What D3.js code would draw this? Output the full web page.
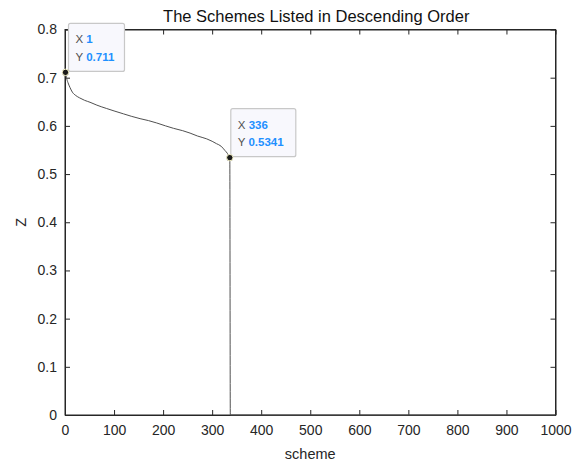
<!DOCTYPE html>
<html><head><meta charset="utf-8">
<script src="https://cdn.jsdelivr.net/npm/d3@7"></script>
<style>
body{margin:0;background:#fff;}
text{font-family:"Liberation Sans",Arial,Helvetica,sans-serif;}
</style></head>
<body><svg id="c" width="583" height="462"></svg>
<script>
const title = "The Schemes Listed in Descending Order";
const xLabel = "scheme";
const yLabel = "Z";
const xTicks = [0,100,200,300,400,500,600,700,800,900,1000];
const yTicks = [0,0.1,0.2,0.3,0.4,0.5,0.6,0.7,0.8];
const schemeX = [1,3,6,10,15,22,30,40,51,65,85,100,119,135,153,170,187,205,221,240,255,270,289,300,309,318,326,331,334,336,337,1000];
const zValues = [0.711,0.700,0.690,0.680,0.670,0.663,0.658,0.653,0.649,0.643,0.636,0.631,0.625,0.620,0.615,0.611,0.606,0.600,0.595,0.590,0.585,0.579,0.573,0.568,0.563,0.558,0.549,0.543,0.538,0.5341,0,0];
const tipX = [1,336];
const tipY = [0.711,0.5341];

const svg = d3.select("#c");
const L=65, R=555.5, T=29.5, B=415;
const x = d3.scaleLinear().domain([0,1000]).range([L,R]);
const y = d3.scaleLinear().domain([0,0.8]).range([B,T]);
const axisColor="#262626";

svg.append("rect").attr("x",L).attr("y",T).attr("width",R-L).attr("height",B-T)
  .attr("fill","#fff").attr("stroke",axisColor).attr("stroke-width",1);

const gx = svg.append("g").attr("transform",`translate(0,${B})`)
  .call(d3.axisBottom(x).tickValues(xTicks).tickSizeInner(-5).tickSizeOuter(0).tickPadding(10).tickFormat(d3.format("d")));
const gxt = svg.append("g").attr("transform",`translate(0,${T})`)
  .call(d3.axisTop(x).tickValues(xTicks).tickSizeInner(-5).tickSizeOuter(0).tickFormat(""));
const gy = svg.append("g").attr("transform",`translate(${L},0)`)
  .call(d3.axisLeft(y).tickValues(yTicks).tickSizeInner(-5).tickSizeOuter(0).tickPadding(8).tickFormat(d=>d===0?"0":d3.format(".1f")(d)));
const gyr = svg.append("g").attr("transform",`translate(${R},0)`)
  .call(d3.axisRight(y).tickValues(yTicks).tickSizeInner(-5).tickSizeOuter(0).tickFormat(""));
[gx,gxt,gy,gyr].forEach(g=>{
  g.select(".domain").attr("stroke",axisColor);
  g.selectAll(".tick line").attr("stroke",axisColor);
  g.selectAll(".tick text").attr("fill",axisColor).attr("font-size",14).attr("font-family","Liberation Sans, Arial, sans-serif");
});

const pts = schemeX.map((d,i)=>[d,zValues[i]]);
svg.append("path").datum(pts)
  .attr("d", d3.line().x(d=>x(d[0])).y(d=>y(d[1])).curve(d3.curveMonotoneX))
  .attr("fill","none").attr("stroke","#505050").attr("stroke-width",1);

svg.append("text").attr("x",(L+R)/2+6).attr("y",22).attr("text-anchor","middle")
  .attr("font-size",16.5).attr("fill","#111").text(title);
svg.append("text").attr("x",(L+R)/2).attr("y",459).attr("text-anchor","middle")
  .attr("font-size",14.5).attr("fill",axisColor).text(xLabel);
svg.append("text").attr("transform",`translate(26,${(T+B)/2}) rotate(-90)`).attr("text-anchor","middle")
  .attr("font-size",14.5).attr("fill",axisColor).text(yLabel);

const tipOffsets = [{dx:3,dy:-49},{dx:1,dy:-49}];
tipX.forEach((tx,i)=>{
  const px = x(tx), py = y(tipY[i]);
  const bx = px + tipOffsets[i].dx, by = py + tipOffsets[i].dy;
  const w = i===0?56:65, h=48;
  svg.append("rect").attr("x",bx).attr("y",by).attr("width",w).attr("height",h)
    .attr("rx",2).attr("fill","#f8f8fd").attr("stroke","#c8c8c8").attr("stroke-width",1.2);
  const t1 = svg.append("text").attr("x",bx+7).attr("y",by+20).attr("font-size",11.5);
  t1.append("tspan").attr("fill","#505050").text("X ");
  t1.append("tspan").attr("fill","#1e90ff").attr("font-weight","bold").text(String(tx));
  const t2 = svg.append("text").attr("x",bx+7).attr("y",by+37.5).attr("font-size",11.5);
  t2.append("tspan").attr("fill","#505050").text("Y ");
  t2.append("tspan").attr("fill","#1e90ff").attr("font-weight","bold").text(String(tipY[i]));
  svg.append("circle").attr("cx",px).attr("cy",py).attr("r",3.2)
    .attr("fill","#1a1a1a").attr("stroke","#f5f2c8").attr("stroke-width",1);
});
</script></body></html>
